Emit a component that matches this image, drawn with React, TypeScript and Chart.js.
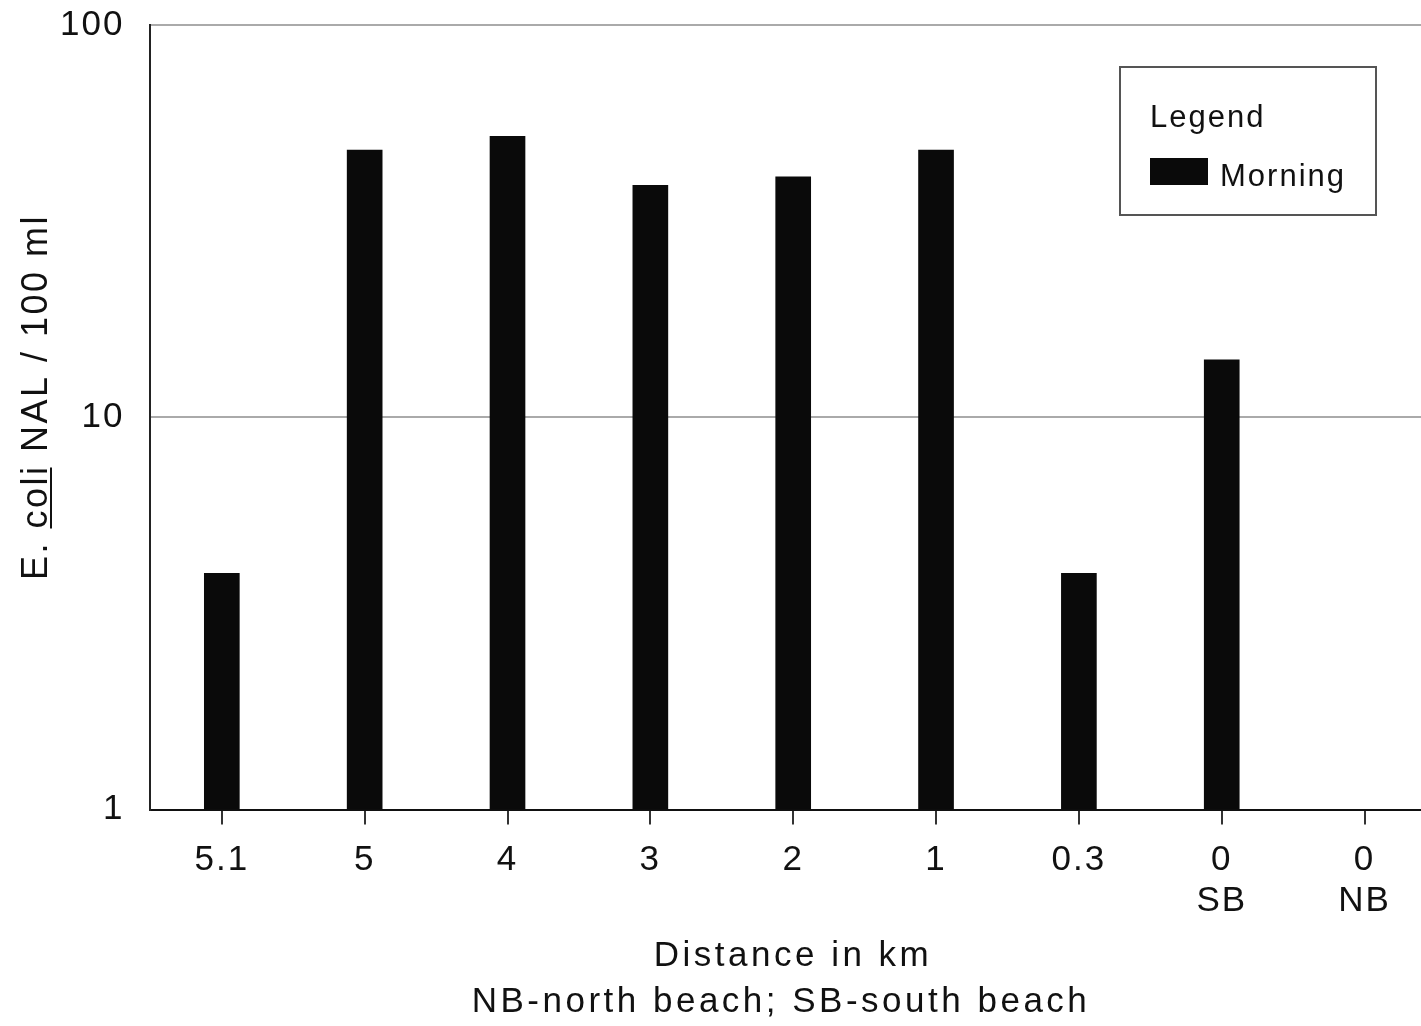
import React, { useEffect, useRef } from "react";
import { Chart, registerables } from "chart.js";

Chart.register(...registerables);

const categories: string[][] = [["5.1"], ["5"], ["4"], ["3"], ["2"], ["1"], ["0.3"], ["0", "SB"], ["0", "NB"]];
const morningValues: (number | null)[] = [4, 48, 52, 39, 41, 48, 4, 14, null];
const yTickValues: number[] = [1, 10, 100];
const seriesLabel = "Morning";
const legendTitle = "Legend";
const yTitleParts: string[] = ["E. ", "coli", " NAL / 100 ml"];
const xTitleLines: string[] = ["Distance in km", "NB-north beach; SB-south beach"];

const FONT = "'Liberation Sans', Arial, sans-serif";

const decorPlugin = {
  id: "decor",
  beforeInit(chart: any) {
    chart.ctx.letterSpacing = "2px";
  },
  beforeLayout(chart: any) {
    chart.ctx.letterSpacing = "2px";
  },
  beforeDraw(chart: any) {
    const ctx = chart.ctx;
    ctx.letterSpacing = "2px";
    ctx.save();
    ctx.fillStyle = "#ffffff";
    ctx.fillRect(0, 0, chart.width, chart.height);
    ctx.restore();
  },
  afterDraw(chart: any) {
    const ctx = chart.ctx;
    const area = chart.chartArea;
    // Y axis title with underlined "coli"
    ctx.save();
    ctx.letterSpacing = "2.5px";
    ctx.font = `36px ${FONT}`;
    ctx.fillStyle = "#111";
    const full = yTitleParts.join("");
    const W = ctx.measureText(full).width;
    const cy = 397;
    ctx.translate(37, cy);
    ctx.rotate(-Math.PI / 2);
    ctx.textBaseline = "middle";
    ctx.textAlign = "left";
    const x = -W / 2;
    ctx.fillText(full, x, 0);
    const w1 = ctx.measureText(yTitleParts[0]).width;
    const w2 = ctx.measureText(yTitleParts[1]).width;
    ctx.strokeStyle = "#111";
    ctx.lineWidth = 2;
    ctx.beginPath();
    ctx.moveTo(x + w1, 14);
    ctx.lineTo(x + w1 + w2 - 3, 14);
    ctx.stroke();
    ctx.restore();

    // X axis title (two lines)
    ctx.save();
    ctx.letterSpacing = "3.5px";
    ctx.font = `35px ${FONT}`;
    ctx.fillStyle = "#111";
    ctx.textAlign = "center";
    ctx.textBaseline = "middle";
    const cx = 787;
    ctx.fillText(xTitleLines[0], cx + 6, area.bottom + 147);
    ctx.fillText(xTitleLines[1], cx - 6, area.bottom + 193);
    ctx.restore();

    // Legend box
    const ds = chart.data.datasets[0];
    const lx = area.right - 316;
    const ly = area.top + 42;
    ctx.save();
    ctx.letterSpacing = "2px";
    ctx.strokeStyle = "#555";
    ctx.lineWidth = 2;
    ctx.strokeRect(lx, ly, 256, 148);
    ctx.font = `31px ${FONT}`;
    ctx.fillStyle = "#111";
    ctx.textBaseline = "alphabetic";
    ctx.textAlign = "left";
    ctx.fillText(legendTitle, lx + 30, ly + 60);
    ctx.fillStyle = ds.backgroundColor;
    ctx.fillRect(lx + 30, ly + 91, 58, 27);
    ctx.fillStyle = "#111";
    ctx.fillText(ds.label, lx + 100, ly + 119);
    ctx.restore();
  },
};

export default function App() {
  const canvasRef = useRef<HTMLCanvasElement | null>(null);

  useEffect(() => {
    document.body.style.margin = "0";
    document.body.style.overflow = "hidden";
    const canvas = canvasRef.current;
    if (!canvas) return;
    const chart = new Chart(canvas, {
      type: "bar",
      data: {
        labels: categories,
        datasets: [
          {
            label: seriesLabel,
            data: morningValues,
            backgroundColor: "#0a0a0a",
            borderWidth: 0,
            barThickness: 35,
          },
        ],
      },
      options: {
        animation: false,
        responsive: true,
        maintainAspectRatio: false,
        layout: { padding: { left: 54, top: 25, right: 0, bottom: 89 } },
        plugins: {
          legend: { display: false },
          tooltip: { enabled: false },
          title: { display: false },
        },
        scales: {
          x: {
            type: "category",
            offset: true,
            grid: {
              display: true,
              drawOnChartArea: false,
              drawTicks: true,
              tickLength: 15,
              offset: false,
              color: "#333",
              lineWidth: 2,
            },
            border: { display: true, color: "#111", width: 2 },
            ticks: {
              color: "#111",
              padding: 16,
              maxRotation: 0,
              autoSkip: false,
              font: { family: FONT, size: 35, lineHeight: 1.15 },
            },
            title: { display: false },
          },
          y: {
            type: "logarithmic",
            min: 1,
            max: 100,
            afterBuildTicks: (scale: any) => {
              scale.ticks = yTickValues.map((v) => ({ value: v }));
            },
            grid: {
              display: true,
              drawTicks: true,
              tickLength: 20,
              tickColor: "rgba(0,0,0,0)",
              color: (ctx: any) => (ctx.tick && ctx.tick.value === 1 ? "rgba(0,0,0,0)" : "#aaa"),
              lineWidth: 2,
            },
            border: { display: true, color: "#222", width: 2 },
            ticks: {
              color: "#111",
              padding: 6,
              callback: (v: any) => String(v),
              font: { family: FONT, size: 35, lineHeight: 1.0 },
            },
            title: { display: false },
          },
        },
      },
      plugins: [decorPlugin],
    } as any);
    return () => chart.destroy();
  }, []);

  return (
    <div style={{ position: "relative", width: 1436, height: 1026, overflow: "hidden" }}>
      <canvas ref={canvasRef} />
    </div>
  );
}
